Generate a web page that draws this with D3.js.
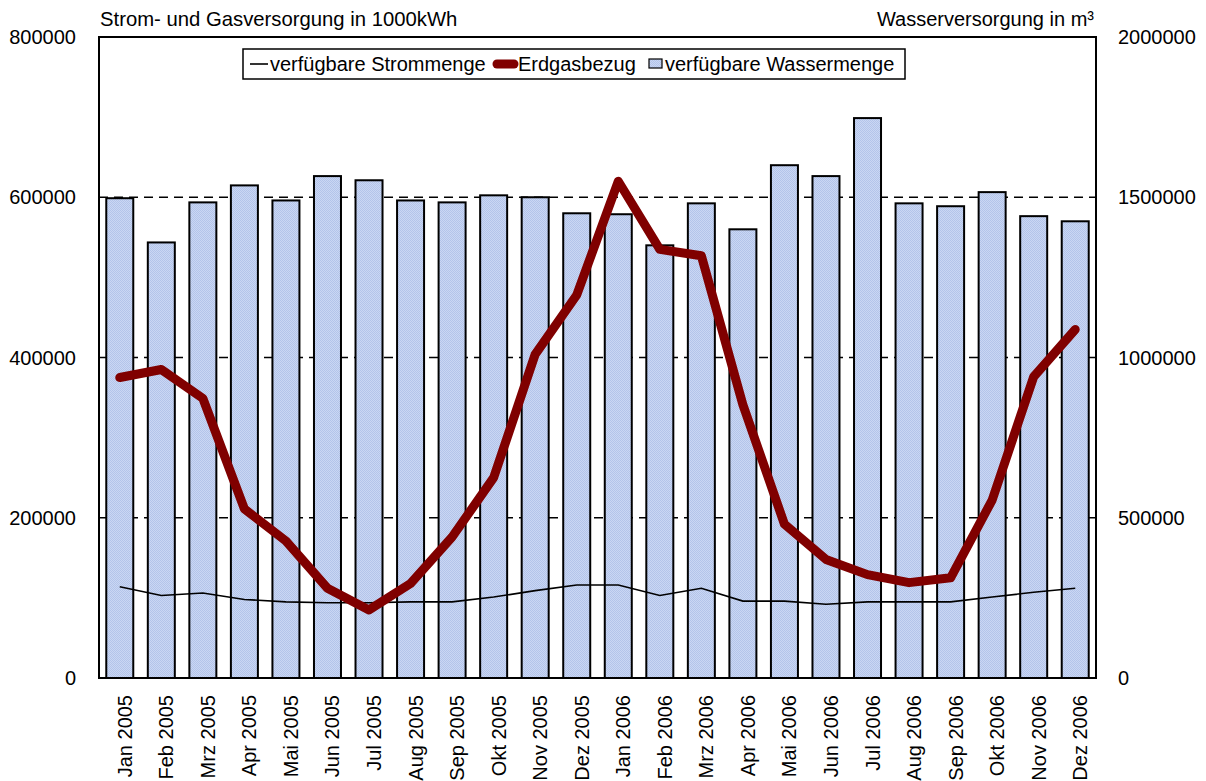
<!DOCTYPE html>
<html>
<head>
<meta charset="utf-8">
<script src="https://cdn.jsdelivr.net/npm/d3@7"></script>
<style>
  body { margin: 0; background: #fff; }
  svg text { font-family: "Liberation Sans", Arial, sans-serif; font-size: 20px; fill: #000; }
</style>
</head>
<body>
<div id="chart"></div>
<script>
var svgWidth = 1206;
var svgHeight = 781;

var margin = { top: 37, right: 110, bottom: 103, left: 99 };
var width = svgWidth - margin.left - margin.right;
var height = svgHeight - margin.top - margin.bottom;

// data
var months = ["Jan 2005", "Feb 2005", "Mrz 2005", "Apr 2005", "Mai 2005", "Jun 2005",
  "Jul 2005", "Aug 2005", "Sep 2005", "Okt 2005", "Nov 2005", "Dez 2005",
  "Jan 2006", "Feb 2006", "Mrz 2006", "Apr 2006", "Mai 2006", "Jun 2006",
  "Jul 2006", "Aug 2006", "Sep 2006", "Okt 2006", "Nov 2006", "Dez 2006"];

// verfügbare Wassermenge (right axis, m³)
var wasser = [1497000, 1359000, 1484000, 1537000, 1490000, 1566000,
  1553000, 1490000, 1484000, 1506000, 1500000, 1450000,
  1447000, 1350000, 1481000, 1400000, 1600000, 1566000,
  1747000, 1481000, 1472000, 1516000, 1441000, 1425000];

// Erdgasbezug (left axis, 1000kWh)
var erdgas = [375000, 385000, 349000, 211000, 171000, 112000,
  85000, 118000, 176000, 250000, 404000, 478000,
  620000, 535000, 527000, 341000, 192000, 148000,
  129000, 119000, 125000, 222000, 376000, 435000];

// verfügbare Strommenge (left axis, 1000kWh)
var strom = [114000, 103000, 106000, 98000, 95000, 94000,
  94000, 95000, 95000, 101000, 109000, 116000,
  116000, 103000, 112000, 96000, 96000, 92000,
  95000, 95000, 95000, 101000, 107000, 112000];

var leftTicks = [0, 200000, 400000, 600000, 800000];
var rightTicks = [0, 500000, 1000000, 1500000, 2000000];

var svg = d3.select("#chart")
  .append("svg")
  .attr("width", svgWidth)
  .attr("height", svgHeight);

// dotted texture for the bars
var defs = svg.append("defs");
var pat = defs.append("pattern")
  .attr("id", "dots")
  .attr("width", 2)
  .attr("height", 2)
  .attr("patternUnits", "userSpaceOnUse");
pat.append("rect").attr("width", 2).attr("height", 2).attr("fill", "#cad7f3");
pat.append("rect").attr("width", 1).attr("height", 1).attr("fill", "#b3c4ea");
pat.append("rect").attr("x", 1).attr("y", 1).attr("width", 1).attr("height", 1).attr("fill", "#b3c4ea");

var chartGroup = svg.append("g")
  .attr("transform", `translate(${margin.left}, ${margin.top})`);

var xScale = d3.scaleBand().domain(months).range([0, width]).padding(0);
var yLeft = d3.scaleLinear().domain([0, 800000]).range([height, 0]);
var yRight = d3.scaleLinear().domain([0, 2000000]).range([height, 0]);

// dashed gridlines
chartGroup.selectAll(".grid")
  .data(leftTicks.filter(function(d) { return d > 0 && d < 800000; }))
  .enter().append("line")
  .attr("x1", 0)
  .attr("x2", width)
  .attr("y1", function(d) { return yLeft(d); })
  .attr("y2", function(d) { return yLeft(d); })
  .attr("stroke", "#000")
  .attr("stroke-width", 1.5)
  .attr("stroke-dasharray", "9,6");

// bars
var barW = xScale.bandwidth() * 0.65;
chartGroup.selectAll(".bar")
  .data(wasser)
  .enter().append("rect")
  .attr("x", function(d, i) { return xScale(months[i]) + (xScale.bandwidth() - barW) / 2; })
  .attr("y", function(d) { return yRight(d); })
  .attr("width", barW)
  .attr("height", function(d) { return height - yRight(d); })
  .attr("fill", "url(#dots)")
  .attr("stroke", "#000")
  .attr("stroke-width", 2);

var cx = function(d, i) { return xScale(months[i]) + xScale.bandwidth() / 2; };

// Strom line
chartGroup.append("path")
  .datum(strom)
  .attr("fill", "none")
  .attr("stroke", "#000")
  .attr("stroke-width", 1.6)
  .attr("d", d3.line().x(cx).y(function(d) { return yLeft(d); }));

// Erdgas line
chartGroup.append("path")
  .datum(erdgas)
  .attr("fill", "none")
  .attr("stroke", "#800000")
  .attr("stroke-width", 9)
  .attr("stroke-linejoin", "round")
  .attr("stroke-linecap", "round")
  .attr("d", d3.line().x(cx).y(function(d) { return yLeft(d); }));

// plot frame
chartGroup.append("rect")
  .attr("width", width)
  .attr("height", height)
  .attr("fill", "none")
  .attr("stroke", "#000")
  .attr("stroke-width", 2);

// left axis labels
chartGroup.selectAll(".ltick")
  .data(leftTicks)
  .enter().append("text")
  .attr("x", -23)
  .attr("y", function(d) { return yLeft(d); })
  .attr("dy", "0.36em")
  .attr("text-anchor", "end")
  .text(function(d) { return d; });

// right axis labels
chartGroup.selectAll(".rtick")
  .data(rightTicks)
  .enter().append("text")
  .attr("x", width + 22)
  .attr("y", function(d) { return yRight(d); })
  .attr("dy", "0.36em")
  .attr("text-anchor", "start")
  .text(function(d) { return d; });

// x labels, rotated
chartGroup.selectAll(".xlab")
  .data(months)
  .enter().append("text")
  .attr("transform", function(d, i) {
    return `translate(${cx(d, i)}, ${height + 17}) rotate(-90)`;
  })
  .attr("dy", "0.6em")
  .attr("text-anchor", "end")
  .text(function(d) { return d; });

// axis titles
svg.append("text")
  .attr("x", 100)
  .attr("y", 26)
  .style("font-size", "20.3px")
  .text("Strom- und Gasversorgung in 1000kWh");

svg.append("text")
  .attr("x", 1094)
  .attr("y", 26)
  .attr("text-anchor", "end")
  .text("Wasserversorgung in m³");

// legend
var legend = svg.append("g");
legend.append("rect")
  .attr("x", 243)
  .attr("y", 49)
  .attr("width", 662)
  .attr("height", 30)
  .attr("fill", "#fff")
  .attr("stroke", "#000")
  .attr("stroke-width", 1.5);

legend.append("line")
  .attr("x1", 250).attr("x2", 268)
  .attr("y1", 64).attr("y2", 64)
  .attr("stroke", "#000").attr("stroke-width", 1.6);
legend.append("text").attr("x", 270).attr("y", 71).text("verfügbare Strommenge");

legend.append("line")
  .attr("x1", 497).attr("x2", 514)
  .attr("y1", 64).attr("y2", 64)
  .attr("stroke", "#800000").attr("stroke-width", 9)
  .attr("stroke-linecap", "round");
legend.append("text").attr("x", 518).attr("y", 71).text("Erdgasbezug");

legend.append("rect")
  .attr("x", 649).attr("y", 59)
  .attr("width", 13).attr("height", 9)
  .attr("fill", "url(#dots)")
  .attr("stroke", "#000").attr("stroke-width", 1.2);
legend.append("text").attr("x", 665).attr("y", 71).text("verfügbare Wassermenge");
</script>
</body>
</html>
